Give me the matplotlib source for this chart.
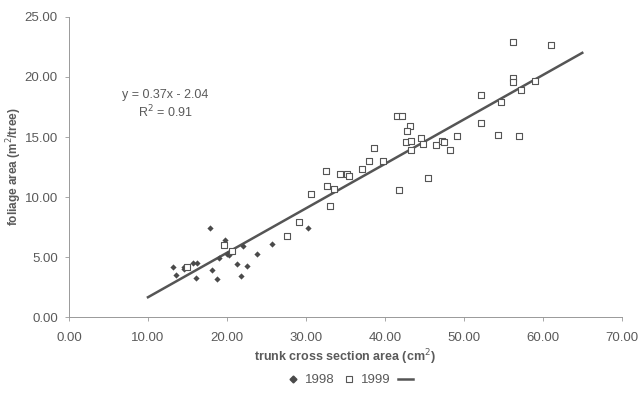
import matplotlib.pyplot as plt
from matplotlib.lines import Line2D

plt.rcParams['font.family'] = ['Liberation Sans', 'DejaVu Sans']

# 1998 measurements (trunk cross section area cm2, foliage area m2/tree)
x1998 = [13.2, 13.5, 14.5, 14.6, 15.7, 16.2, 16.1, 17.8, 18.1, 18.8, 19.0, 19.7,
         20.0, 20.3, 20.4, 21.3, 21.8, 22.0, 22.6, 23.8, 25.7, 30.3]
y1998 = [4.2, 3.5, 4.2, 4.05, 4.5, 4.5, 3.3, 7.4, 3.95, 3.2, 4.9, 6.4,
         5.25, 5.2, 5.45, 4.4, 3.4, 5.9, 4.3, 5.3, 6.1, 7.4]

# 1999 measurements
x1999 = [14.9, 19.6, 20.6, 27.6, 29.1, 30.7, 33.0, 32.7, 33.5, 32.5, 34.3, 35.2,
         35.5, 37.1, 38.0, 39.8, 38.6, 41.8, 41.6, 42.2, 43.2, 42.8, 42.7, 43.3,
         43.3, 44.6, 44.8, 45.4, 46.5, 47.2, 47.5, 48.3, 49.1, 52.2, 56.2, 61.1,
         56.2, 56.2, 59.0, 57.3, 52.2, 54.7, 54.3, 57.0]
y1999 = [4.2, 6.0, 5.5, 6.75, 7.95, 10.25, 9.25, 10.9, 10.7, 12.2, 11.9, 11.9,
         11.75, 12.3, 13.0, 13.0, 14.1, 10.6, 16.75, 16.75, 15.9, 15.5, 14.6, 14.7,
         13.9, 14.9, 14.4, 11.6, 14.3, 14.7, 14.6, 13.9, 15.1, 16.2, 22.9, 22.7,
         19.9, 19.6, 19.7, 18.9, 18.5, 17.95, 15.2, 15.1]

# linear fit shown on the chart
slope = 0.37
intercept = -2.04
fit_x = [10.0, 65.0]

xticks = [0, 10, 20, 30, 40, 50, 60, 70]
yticks = [0, 5, 10, 15, 20, 25]

gray = '#4a4a4a'
txt = '#5a5a5a'

fig = plt.figure(figsize=(6.39, 3.94), dpi=100)
ax = fig.add_axes([0.108, 0.195, 0.865, 0.762])

ax.scatter(x1998, y1998, marker='D', s=10, color=gray, linewidths=0, zorder=3)
ax.scatter(x1999, y1999, marker='s', s=22, facecolors='white', edgecolors='#555555',
           linewidths=0.8, zorder=3)
ax.plot(fit_x, [slope * v + intercept for v in fit_x], color='#555555', lw=1.8, zorder=2)

ax.set_xlim(0, 70)
ax.set_ylim(0, 25)
ax.set_xticks(xticks)
ax.set_yticks(yticks)
ax.set_xticklabels(['%.2f' % v for v in xticks])
ax.set_yticklabels(['%.2f' % v for v in yticks])
ax.tick_params(colors='#999999', labelcolor=txt, labelsize=9.5, length=3, width=0.6)
ax.tick_params(axis='x', pad=8)
ax.tick_params(axis='y', pad=5)
for s in ['top', 'right']:
    ax.spines[s].set_visible(False)
for s in ['left', 'bottom']:
    ax.spines[s].set_color('#999999')
    ax.spines[s].set_linewidth(0.7)

ax.set_xlabel('trunk cross section area (cm$^2$)', fontsize=9, fontweight='bold',
              color=txt, labelpad=2)
ax.set_ylabel('foliage area (m$^2$/tree)', fontsize=8.5, fontweight='bold',
              color=txt, va='center')
ax.yaxis.set_label_coords(-0.1, 0.5)

ax.text(12.2, 17.7, 'y = 0.37x - 2.04\nR$^2$ = 0.91', ha='center', va='center',
        fontsize=9, color=txt, linespacing=1.2)

handles = [
    Line2D([], [], marker='D', ls='none', color=gray, markersize=3.5),
    Line2D([], [], marker='s', ls='none', mfc='white', mec='#555555', markersize=5, mew=0.8),
    Line2D([], [], color='#555555', lw=1.8),
]
fig.legend(handles, ['1998', '1999', ''], loc='center', bbox_to_anchor=(0.55, 0.035),
           ncol=3, frameon=False, fontsize=9.5, handlelength=1.1, handletextpad=0.3,
           columnspacing=0.6, labelcolor=txt)

fig.savefig('out.png', dpi=100)
